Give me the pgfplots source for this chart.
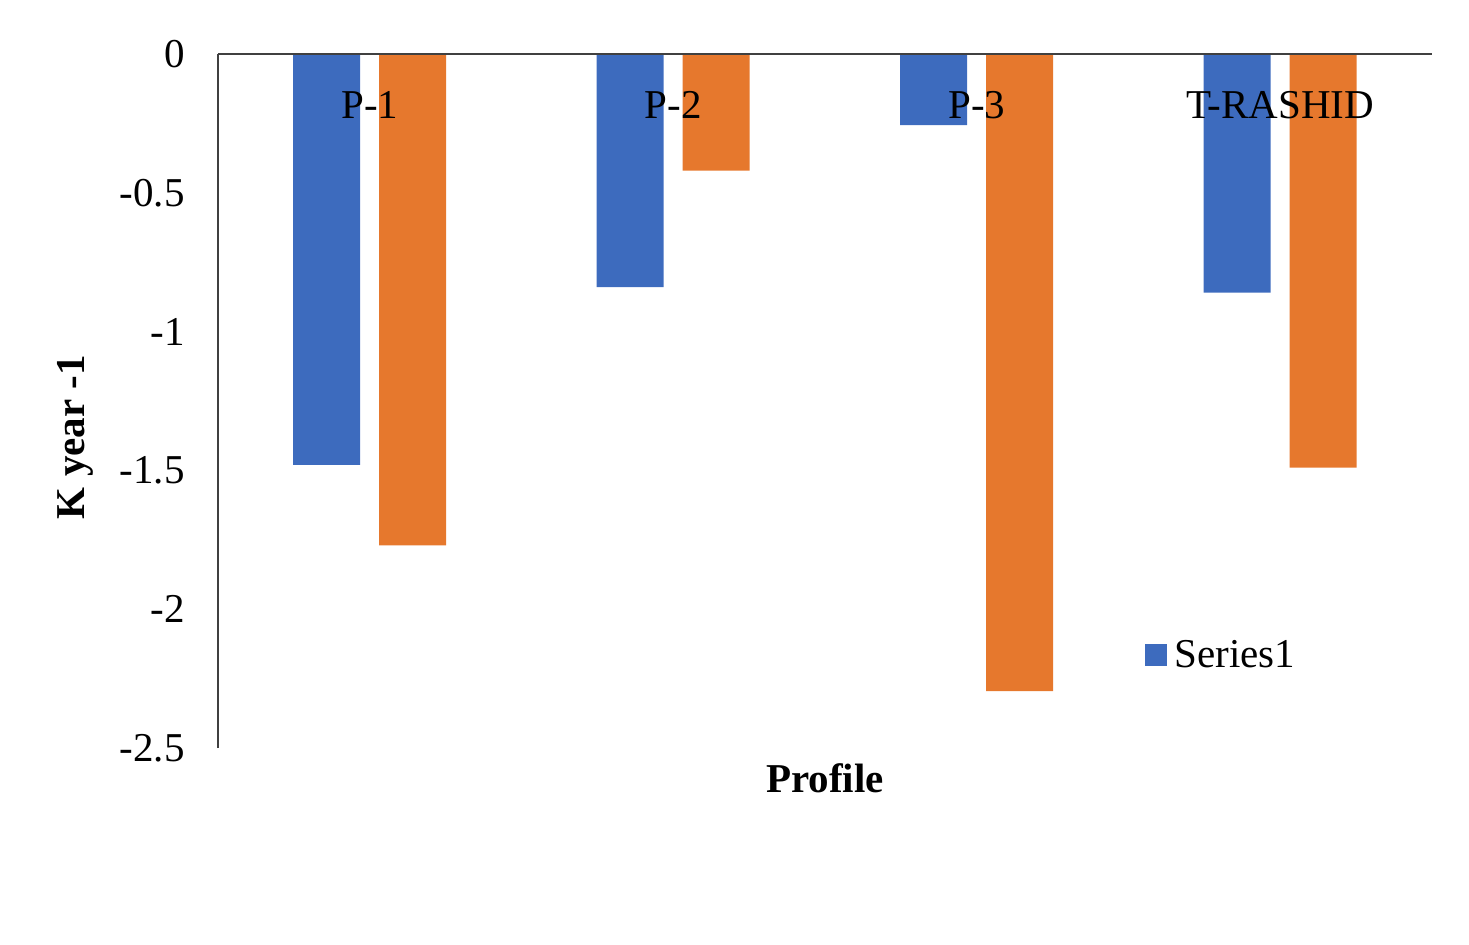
\documentclass[border=0pt]{standalone}
\usepackage{pgfplots}
\pgfplotsset{compat=1.18}
\usepackage{fontspec}
\setmainfont{Liberation Serif}
\definecolor{sblue}{RGB}{61,107,190}
\definecolor{sorange}{RGB}{230,120,45}
\begin{document}
\begin{tikzpicture}
\begin{axis}[
  scale only axis,
  width=607pt, height=347pt,
  at={(0,0)}, anchor=south west,
  ymin=-2.5, ymax=0,
  xmin=-0.5, xmax=3.5,
  axis on top,
  axis x line*=top,
  axis y line*=left,
  axis line style={draw=black!75, line width=1pt},
  major tick length=0pt,
  ytick={-2.5,-2,-1.5,-1,-0.5,0},
  yticklabels={-2.5,-2,-1.5,-1,-0.5,0},
  xtick={0,1,2,3},
  xticklabels={P-1,P-2,P-3,T-RASHID},
  font=\fontsize{20.5}{24}\selectfont,
  yticklabel style={anchor=east, inner sep=0pt, xshift=-16.5pt},
  xticklabel style={anchor=base, inner sep=0pt, yshift=-32pt},
  xlabel={\textbf{Profile}},
  ylabel={\textbf{K year -1}},
  xlabel style={at={(axis description cs:0.5,-0.0648)}, anchor=base, inner sep=0pt},
  ylabel style={at={(axis description cs:-0.1096,0.448)}, anchor=base, inner sep=0pt, rotate=0},
  ybar,
  bar width=33.5pt,
  legend style={draw=none, fill=none, inner sep=0pt, at={(0.7636,0.134)}, anchor=west, font=\fontsize{20.5}{24}\selectfont},
  legend image code/.code={\fill[#1] (0pt,-5.5pt) rectangle (11pt,5.5pt);},
]
\addplot[fill=sblue, draw=none, bar shift=-21.5pt] coordinates {(0,-1.48) (1,-0.84) (2,-0.256) (3,-0.86)};
\addlegendentry{\hspace{1.5pt}Series1}
\addplot[fill=sorange, draw=none, bar shift=21.5pt, forget plot] coordinates {(0,-1.77) (1,-0.42) (2,-2.295) (3,-1.49)};
\end{axis}
\path[use as bounding box] (-109pt,-98pt) rectangle (625.5pt,374pt);
\end{tikzpicture}
\end{document}
